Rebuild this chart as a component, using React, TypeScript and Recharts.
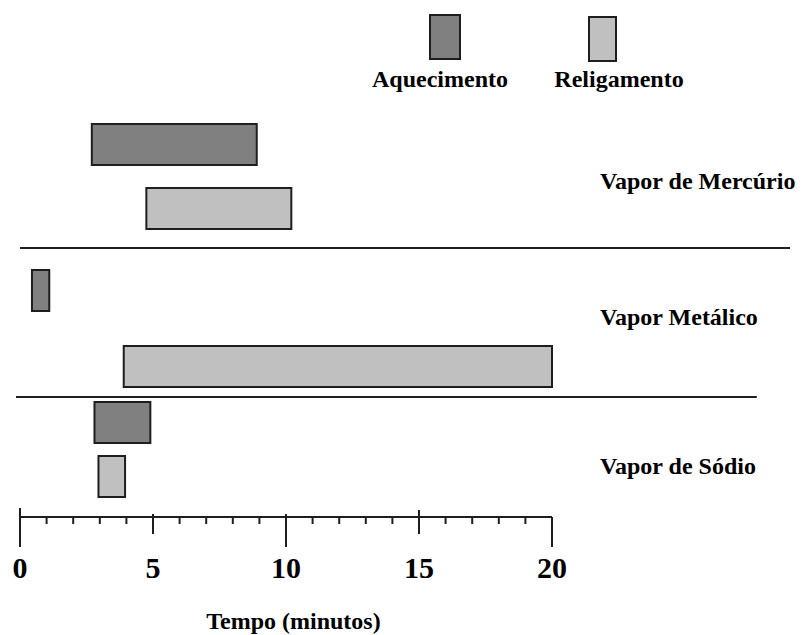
import React from 'react';
import { BarChart, Bar, XAxis, YAxis, Cell, ReferenceLine, ReferenceDot, Legend } from 'recharts';

// ---------- data ----------
const lampNames = ['Vapor de Mercúrio', 'Vapor Metálico', 'Vapor de Sódio'];
const phaseNames = ['Aquecimento', 'Religamento'];
const rowLamp = [0, 0, 1, 1, 2, 2];
const rowPhase = [0, 1, 0, 1, 0, 1];
// row order from top (lane measured downward)
const rowLane = [2.4, 5.6, 9.7, 13.5, 16.3, 19.0];
const startMinutes = [2.7, 4.75, 0.45, 3.9, 2.8, 2.95];
const endMinutes = [8.9, 10.2, 1.1, 20, 4.9, 3.95];
const timeTicks = [0, 1, 2, 3, 4, 5, 6, 7, 8, 9, 10, 11, 12, 13, 14, 15, 16, 17, 18, 19, 20];
const axisTitle = 'Tempo (minutos)';

// ---------- layout / style ----------
const FONT = "'Liberation Serif', 'Times New Roman', serif";
const phaseColors = ['#808080', '#c0c0c0'];
const STROKE = '#1e1e1e';
const LANE_MAX = 21;
const separatorLanes = [7.55, 15.0];
const separatorSpans = [[0, 28.95], [-0.15, 27.7]];
const lampLabelLanes = [4.6, 11.4, 18.85];
const lampLabelX = 21.8;

const rows = rowLane.map((lane, i) => ({
  lane,
  range: [startMinutes[i], endMinutes[i]],
  lamp: lampNames[rowLamp[i]],
  phase: phaseNames[rowPhase[i]],
}));

const TimeTick = (props: any) => {
  const { x, y, payload } = props;
  const v = payload.value as number;
  let top = 0;
  let bottom = 7;
  if (v % 10 === 0) {
    bottom = 30;
    top = v === 0 ? -9 : v === 20 ? 0 : -3;
  } else if (v % 5 === 0) {
    bottom = 17;
    top = v === 15 ? -7 : -3;
  }
  return (
    <g>
      <line x1={x} x2={x} y1={y + top} y2={y + bottom} stroke={STROKE} strokeWidth={2} />
      {v % 5 === 0 && (
        <text x={x} y={y + 61} textAnchor="middle" fontFamily={FONT} fontWeight="bold" fontSize={30} fill="#000">
          {v}
        </text>
      )}
    </g>
  );
};

const legendLayout = [
  { x: 430, y: 15, w: 30, h: 44, tx: 440 },
  { x: 589, y: 17, w: 27, h: 44, tx: 619 },
];

const LegendContent = () => (
  <svg width={805} height={95} style={{ display: 'block' }}>
    {phaseNames.map((name, i) => (
      <g key={name}>
        <rect
          x={legendLayout[i].x}
          y={legendLayout[i].y}
          width={legendLayout[i].w}
          height={legendLayout[i].h}
          fill={phaseColors[i]}
          stroke={STROKE}
          strokeWidth={2}
        />
        <text x={legendLayout[i].tx} y={87} textAnchor="middle" fontFamily={FONT} fontWeight="bold" fontSize={24} fill="#000">
          {name}
        </text>
      </g>
    ))}
  </svg>
);

const makeTextLabel = (text: string, anchor: 'start' | 'middle') => (p: any) => {
  const vb = p.viewBox || {};
  return (
    <text x={vb.x} y={vb.y} textAnchor={anchor} fontFamily={FONT} fontWeight="bold" fontSize={24} fill="#000">
      {text}
    </text>
  );
};

export default function App() {
  return (
    <div>
      <style>{'html,body{margin:0;padding:0;overflow:hidden;background:#fff}'}</style>
      <BarChart
        width={805}
        height={635}
        data={rows}
        layout="vertical"
        margin={{ top: 97, right: 13.6, bottom: 0, left: 20 }}
      >
        <XAxis
          type="number"
          domain={[0, 29]}
          ticks={timeTicks}
          interval={0}
          axisLine={false}
          tickLine={false}
          tickSize={0}
          tickMargin={0}
          height={118}
          tick={<TimeTick />}
          allowDataOverflow
        />
        <YAxis type="number" dataKey="lane" domain={[0, LANE_MAX]} ticks={[0, LANE_MAX]} hide allowDataOverflow />
        <Legend
          layout="vertical"
          verticalAlign="middle"
          align="center"
          wrapperStyle={{ top: 0, left: 0, width: 805, height: 95 }}
          content={<LegendContent />}
        />
        <ReferenceLine
          segment={[{ x: 0, y: LANE_MAX }, { x: 20, y: LANE_MAX }]}
          stroke={STROKE}
          strokeWidth={2}
          ifOverflow="visible"
        />
        {separatorLanes.map((lane, i) => (
          <ReferenceLine
            key={'sep' + i}
            segment={[{ x: separatorSpans[i][0], y: lane }, { x: separatorSpans[i][1], y: lane }]}
            stroke={STROKE}
            strokeWidth={2}
            ifOverflow="visible"
          />
        ))}
        <Bar dataKey="range" barSize={41} isAnimationActive={false} stroke={STROKE} strokeWidth={2}>
          {rows.map((r, i) => (
            <Cell key={i} fill={phaseColors[rowPhase[i]]} />
          ))}
        </Bar>
        {lampNames.map((name, i) => (
          <ReferenceDot
            key={name}
            x={lampLabelX}
            y={lampLabelLanes[i]}
            r={0}
            fill="none"
            stroke="none"
            ifOverflow="visible"
            label={makeTextLabel(name, 'start')}
          />
        ))}
        <ReferenceDot
          x={10.28}
          y={LANE_MAX + 5.6}
          r={0}
          fill="none"
          stroke="none"
          ifOverflow="visible"
          label={makeTextLabel(axisTitle, 'middle')}
        />
      </BarChart>
    </div>
  );
}
